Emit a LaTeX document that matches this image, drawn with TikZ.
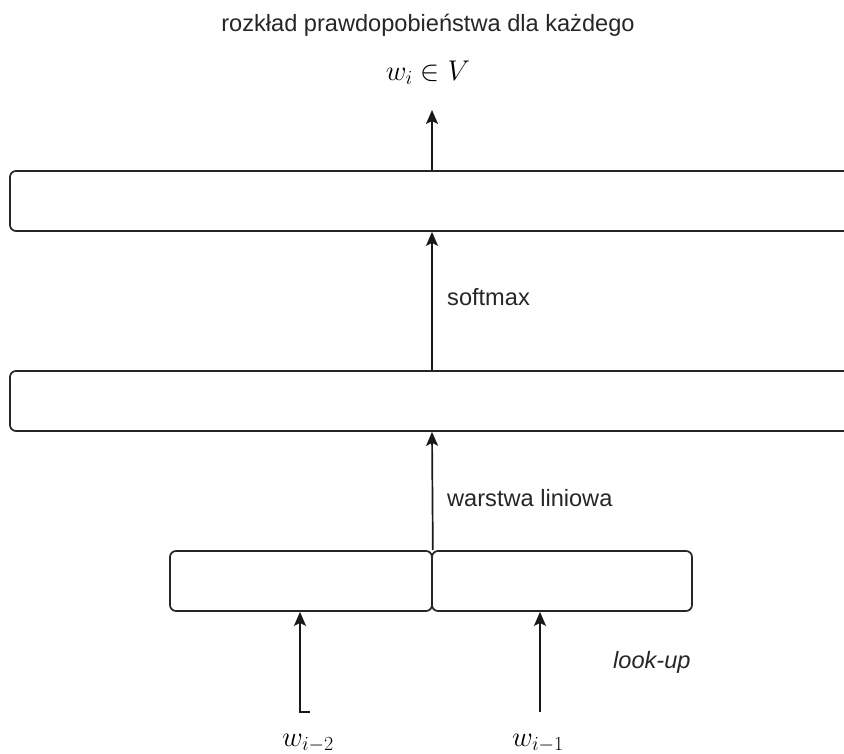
\RequirePackage{fix-cm}
\documentclass[tikz,border=0pt]{standalone}
\usepackage{fontspec}
\setmainfont{Liberation Sans}
\usetikzlibrary{arrows.meta}
\begin{document}
\begin{tikzpicture}[x=1pt,y=-1pt,
  txt/.style={font=\fontsize{23.6}{28}\selectfont, text=black!85, inner sep=0pt},
  mth/.style={font=\fontsize{28.5}{32}\selectfont, inner sep=0pt},
  layer/.style={draw=black!85, line width=1.7pt, rounded corners=6pt, minimum height=60pt, inner sep=0pt},
  arr/.style={draw=black!90, line width=1.7pt, -{Stealth[length=14pt,width=12pt,inset=3pt]}}
]
\useasboundingbox (0,0) rectangle (844,753);
\clip (0,0) rectangle (844,753);

% text labels
\node[txt, anchor=base] (title) at (428,31) {rozkład prawdopobieństwa dla każdego};
\node[mth, anchor=base] (out) at (428,80) {$w_i \in V$};

% layers
\node[layer, minimum width=844pt] (top) at (432,201) {};
\node[layer, minimum width=844pt] (mid) at (432,401) {};
\node[layer, minimum width=262pt] (lbox) at (301,581) {};
\node[layer, minimum width=260pt] (rbox) at (562,581) {};

% connector labels
\node[txt, anchor=base west] (sm) at (447,305) {softmax};
\node[txt, anchor=base west] (lin) at (447,506) {warstwa liniowa};
\node[txt, anchor=base west, font=\fontsize{23.6}{28}\selectfont\itshape] (lu) at (613,668) {look-up};

% inputs
\node[mth, anchor=base] (w2) at (308,746) {$w_{i-2}$};
\node[mth, anchor=base] (w1) at (538,746) {$w_{i-1}$};
\coordinate (s2) at (310,712);
\coordinate (b2) at (300,712);
\coordinate (s1) at (540,712);
\coordinate (tip) at (432,110);

% connectors
\draw[arr] (top.north) -- (tip);
\draw[arr] (mid.north) -- (top.south);
\draw[arr] (lbox.north east) -- (mid.south);
\draw[arr] (s2) -- (b2) -- (b2 |- lbox.south);
\draw[arr] (s1) -- (s1 |- rbox.south);
\end{tikzpicture}
\end{document}
